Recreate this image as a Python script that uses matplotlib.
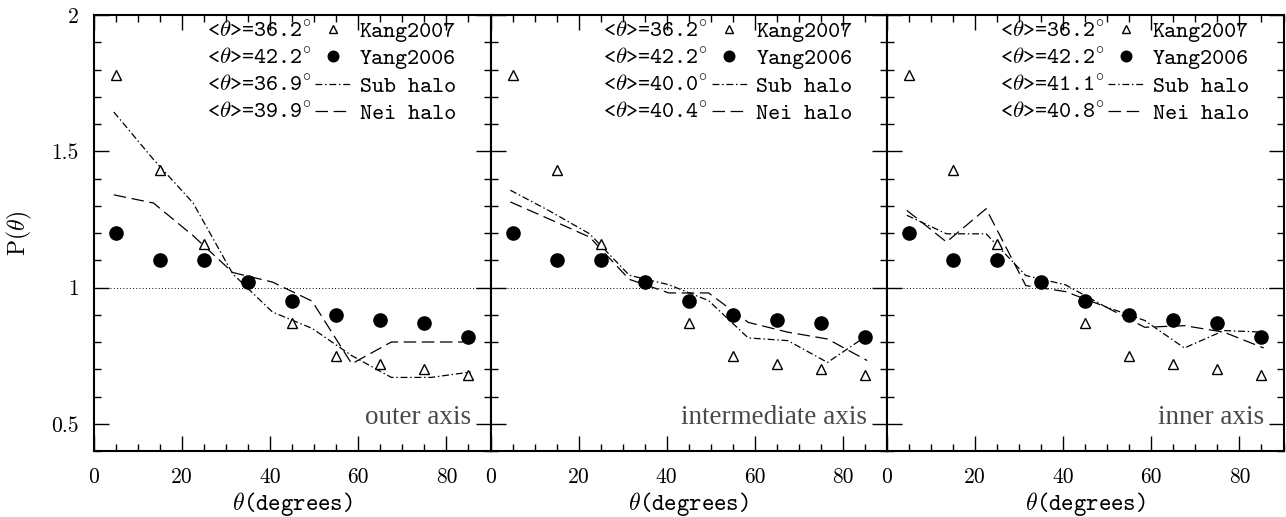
import numpy as np
import matplotlib
matplotlib.use("Agg")
import matplotlib.pyplot as plt
from matplotlib.ticker import MultipleLocator

plt.rcParams["mathtext.fontset"] = "cm"

# Observational alignment distributions (same in every panel)
kang_theta = [5, 15, 25, 45, 55, 65, 75, 85]
kang2007 = [1.78, 1.43, 1.16, 0.87, 0.75, 0.72, 0.70, 0.68]
yang_theta = [5, 15, 25, 35, 45, 55, 65, 75, 85]
yang2006 = [1.20, 1.10, 1.10, 1.02, 0.95, 0.90, 0.88, 0.87, 0.82]

# Simulation bins
theta_sim = [4.5, 13.5, 22.5, 31.5, 40.5, 49.5, 58.5, 67.5, 76.5, 85.5]
sub_outer = [1.644, 1.47, 1.31, 1.05, 0.91, 0.85, 0.75, 0.67, 0.67, 0.69]
nei_outer = [1.34, 1.31, 1.19, 1.055, 1.02, 0.95, 0.72, 0.80, 0.80, 0.80]
sub_inter = [1.357, 1.28, 1.197, 1.045, 1.01, 0.952, 0.815, 0.805, 0.725, 0.824]
nei_inter = [1.314, 1.25, 1.185, 1.03, 0.98, 0.98, 0.872, 0.836, 0.811, 0.732]
sub_inner = [1.265, 1.197, 1.197, 1.044, 1.01, 0.93, 0.879, 0.778, 0.842, 0.836]
nei_inner = [1.283, 1.167, 1.289, 1.007, 0.985, 0.93, 0.854, 0.86, 0.836, 0.778]

panel_names = ["outer axis", "intermediate axis", "inner axis"]
sub_series = [sub_outer, sub_inter, sub_inner]
nei_series = [nei_outer, nei_inter, nei_inner]
mean_kang = 36.2
mean_yang = 42.2
mean_sub = [36.9, 40.0, 41.1]
mean_nei = [39.9, 40.4, 40.8]
series_names = ["Kang2007", "Yang2006", "Sub halo", "Nei halo"]

xtick_vals = [0, 20, 40, 60, 80]
xtick_labels = ["0", "20", "40", "60", "80"]
ytick_vals = [0.5, 1.0, 1.5, 2.0]
ytick_labels = ["0.5", "1", "1.5", "2"]

W, H = 1286, 517
fig = plt.figure(figsize=(W / 100, H / 100), dpi=100)

SUB_DASH = (5.5, 2.2, 1.2, 2.2)
NEI_DASH = (10, 4.5)
TT = "cmtt10"
RM = "cmr10"
LEG_SIZE = 16.5

panel_left = [94, 490.5, 887]
panel_w = 396.5
ax_bottom, ax_top = 451, 15

axes = []
for i in range(3):
    ax = fig.add_axes([panel_left[i] / W, (H - ax_bottom) / H,
                       panel_w / W, (ax_bottom - ax_top) / H])
    axes.append(ax)
    ax.set_xlim(0, 90)
    ax.set_ylim(0.4, 2.0)

    ax.axhline(1.0, color="k", lw=0.7, ls=(0, (1, 2.3)), zorder=1)

    l_sub, = ax.plot(theta_sim, sub_series[i], color="k", lw=0.9,
                     dashes=SUB_DASH, zorder=2)
    l_nei, = ax.plot(theta_sim, nei_series[i], color="k", lw=0.9,
                     dashes=NEI_DASH, zorder=2)
    m_kang, = ax.plot(kang_theta, kang2007, ls="none", marker="^", ms=7.5,
                      mfc="white", mec="k", mew=1.0, zorder=3)
    m_yang, = ax.plot(yang_theta, yang2006, ls="none", marker="o", ms=9.5,
                      color="k", zorder=4)

    ax.set_xticks(xtick_vals, labels=xtick_labels)
    ax.xaxis.set_minor_locator(MultipleLocator(5))
    ax.set_yticks(ytick_vals, labels=ytick_labels)
    ax.yaxis.set_minor_locator(MultipleLocator(0.1))
    ax.tick_params(which="both", direction="in", top=True, right=True,
                   width=1.0, labelsize=15.5)
    ax.tick_params(axis="x", which="major", pad=12)
    ax.tick_params(axis="y", which="major", pad=11)
    ax.tick_params(which="major", length=11)
    ax.tick_params(which="minor", length=5)
    for lab in ax.get_xticklabels() + ax.get_yticklabels():
        lab.set_fontfamily(RM)
    if i > 0:
        ax.tick_params(labelleft=False)
    for sp in ax.spines.values():
        sp.set_linewidth(1.5)

    ax.set_xlabel(r"$\theta$(degrees)", fontfamily=TT, fontsize=17, labelpad=2)
    if i == 0:
        ax.set_ylabel(r"P($\theta$)", fontfamily=RM, fontsize=17, labelpad=12)

    ax.text(0.95, 0.063, panel_names[i], transform=ax.transAxes,
            ha="right", va="baseline", fontfamily="Liberation Serif",
            fontsize=19.5, color="#4a4a4a")

    leg = ax.legend([m_kang, m_yang, l_sub, l_nei], series_names,
                    loc="upper left", bbox_to_anchor=(221 / panel_w, 0.986),
                    frameon=False, borderpad=0, borderaxespad=0,
                    handlelength=1.55, handletextpad=0.4, labelspacing=0.27,
                    markerscale=0.8, prop={"family": TT, "size": LEG_SIZE})
    ax._mean_texts = [mean_kang, mean_yang, mean_sub[i], mean_nei[i]]

fig.canvas.draw()
renderer = fig.canvas.get_renderer()
for ax in axes:
    leg = ax.get_legend()
    inv = ax.transAxes.inverted()
    for t, val in zip(leg.get_texts(), ax._mean_texts):
        bb = t.get_window_extent(renderer)
        _, _, d = renderer.get_text_width_height_descent("lp", t.get_fontproperties(), ismath=False)
        y_base = inv.transform((0, bb.y0 + d))[1]
        ax.text(218 / panel_w, y_base, r"<$\theta$>=%.1f$^{\circ}$" % val,
                transform=ax.transAxes, ha="right", va="baseline",
                fontfamily=TT, fontsize=LEG_SIZE)

fig.savefig("out.png", dpi=100)
